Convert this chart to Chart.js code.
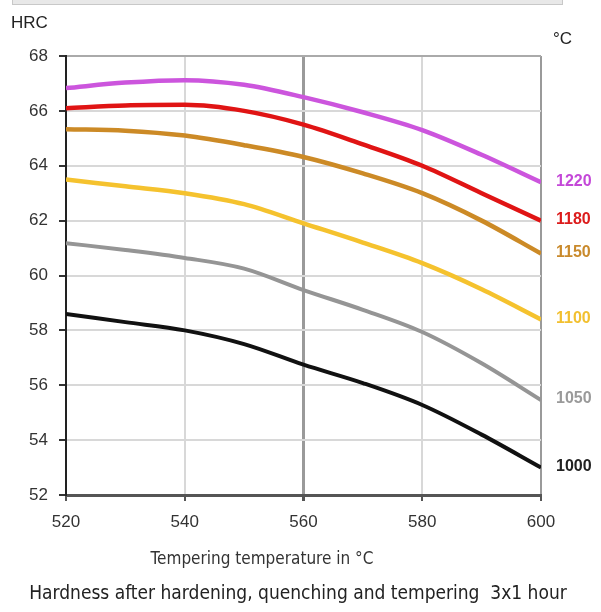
<!DOCTYPE html>
<html>
<head>
<meta charset="utf-8">
<script src="https://cdn.jsdelivr.net/npm/chart.js@4.4.0/dist/chart.umd.min.js"></script>
<style>
  html, body { margin: 0; padding: 0; background: #fff; }
  #wrap { position: relative; width: 601px; height: 612px; }
  #topbar { position: absolute; left: 12px; top: 0; width: 549px; height: 4px; background: #e8e8e8; border: 1px solid #c8c8c8; border-top: none; }
</style>
</head>
<body>
<div id="wrap">
  <canvas id="chart" width="601" height="612"></canvas>
  <div id="topbar"></div>
</div>
<script>
// ── Tempering curves ──
// Hardness (HRC) vs tempering temperature, one curve per hardening temperature.

const temps = [520, 530, 540, 550, 560, 570, 580, 590, 600];
const hrc1220 = [66.83, 67.03, 67.12, 66.95, 66.5, 65.95, 65.3, 64.4, 63.4];
const hrc1180 = [66.1, 66.2, 66.22, 66.0, 65.5, 64.78, 64.0, 63.0, 62.0];
const hrc1150 = [65.33, 65.28, 65.1, 64.75, 64.32, 63.72, 63.0, 62.0, 60.8];
const hrc1100 = [63.5, 63.25, 63.0, 62.6, 61.9, 61.2, 60.45, 59.5, 58.4];
const hrc1050 = [61.18, 60.93, 60.64, 60.25, 59.47, 58.75, 57.94, 56.8, 55.46];
const hrc1000 = [58.6, 58.3, 58.0, 57.5, 56.75, 56.08, 55.28, 54.2, 53.0];
const hardeningTemps = ['1220', '1180', '1150', '1100', '1050', '1000'];
const xTicks = [520, 540, 560, 580, 600];
const yTicks = [52, 54, 56, 58, 60, 62, 64, 66, 68];

const seriesValues = [hrc1220, hrc1180, hrc1150, hrc1100, hrc1050, hrc1000];
const lineColors = ['#cc55dd', '#e01414', '#cc8a26', '#f5c22e', '#959595', '#111111'];
const labelColors = ['#c448d8', '#dc1c1c', '#c98a2c', '#f2c030', '#9a9a9a', '#222222'];
const lineWidths = [4.5, 4.5, 4.5, 4.5, 4, 4];

const datasets = seriesValues.map((vals, i) => ({
  label: hardeningTemps[i],
  data: vals.map((v, j) => ({ x: temps[j], y: v })),
  borderColor: lineColors[i],
  borderWidth: lineWidths[i],
  pointRadius: 0,
  fill: false,
  cubicInterpolationMode: 'monotone'
}));

const TEXT_FONT = "'Liberation Sans', Arial, sans-serif";
const COND_FONT = "'DejaVu Sans Condensed', 'DejaVu Sans', sans-serif";

// Labels at the right end of each curve, unit labels and captions
const textPlugin = {
  id: 'textPlugin',
  afterDraw(chart) {
    const { ctx, chartArea } = chart;
    ctx.save();
    ctx.textBaseline = 'middle';

    ctx.font = 'bold 16px ' + TEXT_FONT;
    ctx.textAlign = 'left';
    chart.data.datasets.forEach((ds, i) => {
      const meta = chart.getDatasetMeta(i);
      const last = meta.data[meta.data.length - 1];
      ctx.fillStyle = labelColors[i];
      ctx.fillText(ds.label, chartArea.right + 15, last.y - 1);
    });

    ctx.fillStyle = '#222';
    ctx.font = '17px ' + TEXT_FONT;
    ctx.fillText('HRC', 11, 23);
    ctx.fillText('°C', 553, 39);

    ctx.textAlign = 'center';
    ctx.font = '17px ' + COND_FONT;
    ctx.fillStyle = '#333';
    ctx.fillText('Tempering temperature in °C', 262, 560);

    ctx.font = '19px ' + COND_FONT;
    ctx.fillStyle = '#222';
    ctx.fillText('Hardness after hardening, quenching and tempering  3x1 hour', 298, 594);
    ctx.restore();
  }
};

new Chart(document.getElementById('chart'), {
  type: 'line',
  data: { datasets },
  options: {
    responsive: false,
    animation: false,
    layout: { padding: { left: 0, right: 60, top: 56, bottom: 0 } },
    plugins: {
      legend: { display: false },
      tooltip: { enabled: false }
    },
    scales: {
      x: {
        type: 'linear',
        min: 520,
        max: 600,
        afterFit: s => { s.height = 117; },
        afterBuildTicks: s => { s.ticks = xTicks.map(v => ({ value: v })); },
        ticks: { color: '#333', font: { size: 17, family: TEXT_FONT }, padding: 11, maxRotation: 0 },
        grid: {
          color: c => (c.tick && (c.tick.value === 560 || c.tick.value === 600)) ? '#9a9a9a' : '#d8d8d8',
          lineWidth: c => (c.tick && c.tick.value === 560) ? 3 : 2,
          tickColor: '#555',
          tickLength: 6
        },
        border: { color: '#555', width: 3 }
      },
      y: {
        min: 52,
        max: 68,
        afterFit: s => { s.width = 66; },
        afterBuildTicks: s => { s.ticks = yTicks.map(v => ({ value: v })); },
        ticks: { color: '#333', font: { size: 17, family: TEXT_FONT }, padding: 11 },
        grid: {
          color: c => (c.tick && c.tick.value === 68) ? '#aaaaaa' : '#d8d8d8',
          lineWidth: 2,
          tickColor: '#333',
          tickLength: 7
        },
        border: { color: '#222', width: 2 }
      }
    }
  },
  plugins: [textPlugin]
});
</script>
</body>
</html>
